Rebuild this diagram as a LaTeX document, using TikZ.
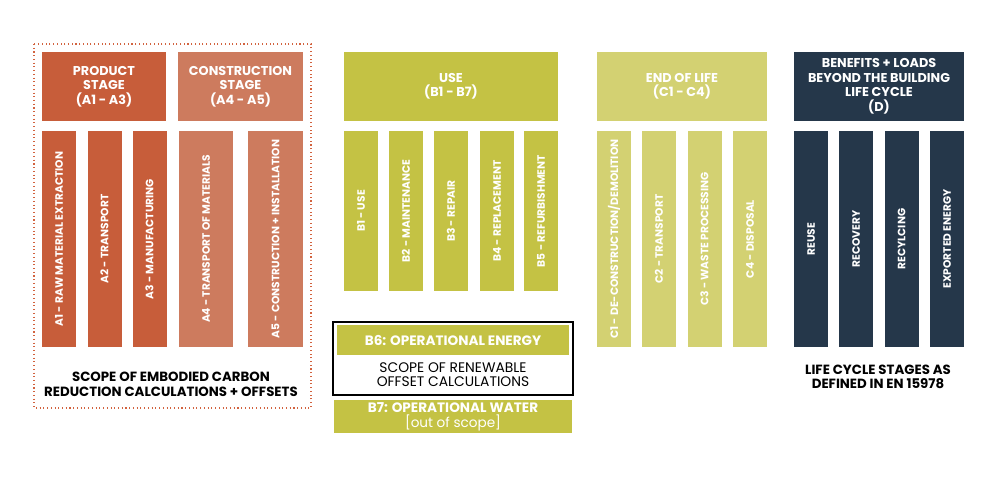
\documentclass[tikz,border=0pt]{standalone}
\usepackage{xcolor}
\usepackage{fontspec}
\setmainfont{Poppins}

\definecolor{prodred}{HTML}{C75D3A}
\definecolor{consred}{HTML}{CD7B5E}
\definecolor{usegreen}{HTML}{C4C244}
\definecolor{eolgreen}{HTML}{D3D172}
\definecolor{bennavy}{HTML}{25374A}
\definecolor{scopered}{HTML}{D2633F}

\tikzset{
  header/.style={inner sep=0pt, align=center, text=white, font=\fontsize{9.6}{10.9}\selectfont\bfseries, minimum height=51.75pt},
  stagecol/.style={inner sep=0pt, rotate=90, text=white, font=\fontsize{8}{9}\selectfont\bfseries, minimum height=25.5pt},
  caption/.style={inner sep=0pt, align=center, font=\fontsize{10}{11.25}\selectfont\bfseries}
}

\begin{document}
\begin{tikzpicture}[x=0.75pt,y=0.75pt,yscale=-1,xscale=1]
\useasboundingbox (0,0) rectangle (1000,485);

%Shape: Dotted frame
\draw [scopered, dotted, line width=0.8pt] (34,44) rectangle (311,408);

%Shape: Headers
\node [header, fill=prodred, minimum width=93pt] (prod) at (104,86.5) {PRODUCT\\STAGE\\(A1 - A3)};
\node [header, fill=consred, minimum width=93.75pt] (cons) at (240.5,86.5) {CONSTRUCTION\\STAGE\\(A4 - A5)};
\node [header, fill=usegreen, minimum width=160.5pt] (use) at (451,86.5) {USE\\(B1 - B7)};
\node [header, fill=eolgreen, minimum width=127.5pt] (eol) at (682,86.5) {END OF LIFE\\(C1 - C4)};
\node [header, fill=bennavy, minimum width=127.5pt] (ben) at (879,86.5) {BENEFITS + LOADS\\BEYOND THE BUILDING\\LIFE CYCLE\\(D)};

%Shape: Product + construction columns
\node [stagecol, fill=prodred, minimum width=162pt] (a1) at (59,239) {A1 - RAW MATERIAL EXTRACTION};
\node [stagecol, fill=prodred, minimum width=162pt] (a2) at (104.5,239) {A2 - TRANSPORT};
\node [stagecol, fill=prodred, minimum width=162pt] (a3) at (149.5,239) {A3 - MANUFACTURING};
\node [stagecol, fill=consred, minimum width=162pt, minimum height=40.5pt] (a4) at (206,239) {A4 - TRANSPORT OF MATERIALS};
\node [stagecol, fill=consred, minimum width=162pt, minimum height=41.25pt] (a5) at (275.5,239) {A5 - CONSTRUCTION + INSTALLATION};

%Shape: Use columns
\node [stagecol, fill=usegreen, minimum width=120pt] (b1) at (361,211) {B1 - USE};
\node [stagecol, fill=usegreen, minimum width=120pt] (b2) at (406,211) {B2 - MAINTENANCE};
\node [stagecol, fill=usegreen, minimum width=120pt] (b3) at (451,211) {B3 - REPAIR};
\node [stagecol, fill=usegreen, minimum width=120pt] (b4) at (497,211) {B4 - REPLACEMENT};
\node [stagecol, fill=usegreen, minimum width=120pt] (b5) at (541,211) {B5 - REFURBISHMENT};

%Shape: End of life columns
\node [stagecol, fill=eolgreen, minimum width=162pt] (c1) at (614,239) {C1 - DE-CONSTRUCTION/DEMOLITION};
\node [stagecol, fill=eolgreen, minimum width=162pt] (c2) at (659,239) {C2 - TRANSPORT};
\node [stagecol, fill=eolgreen, minimum width=162pt] (c3) at (704.5,239) {C3 - WASTE PROCESSING};
\node [stagecol, fill=eolgreen, minimum width=162pt] (c4) at (750,239) {C4 - DISPOSAL};

%Shape: Beyond life cycle columns
\node [stagecol, fill=bennavy, minimum width=162pt] (d1) at (811,239) {REUSE};
\node [stagecol, fill=bennavy, minimum width=162pt] (d2) at (856,239) {RECOVERY};
\node [stagecol, fill=bennavy, minimum width=162pt] (d3) at (901.5,239) {RECYLCING};
\node [stagecol, fill=bennavy, minimum width=162pt] (d4) at (947,239) {EXPORTED ENERGY};

%Shape: Operational energy + water
\draw [line width=1.4pt] (333,322) rectangle (573,395);
\node [header, fill=usegreen, font=\fontsize{10.2}{11}\selectfont\bfseries, minimum width=174pt, minimum height=22.5pt] (b6) at (453,340) {B6: OPERATIONAL ENERGY};
\node [caption, font=\fontsize{10.4}{10.5}\selectfont] (renew) at (453,375) {SCOPE OF RENEWABLE\\OFFSET CALCULATIONS};
\node [header, fill=usegreen, font=\fontsize{10.2}{11.25}\selectfont\bfseries, minimum width=178.5pt, minimum height=24.75pt] (b7) at (453,416.5) {B7: OPERATIONAL WATER\\{\mdseries [out of scope]}};

% Text Node
\node [caption] (scopeA) at (171,384.5) {SCOPE OF EMBODIED CARBON\\REDUCTION CALCULATIONS + OFFSETS};
% Text Node
\node [caption, font=\fontsize{10}{10.5}\selectfont\bfseries] (scopeD) at (878,377) {LIFE CYCLE STAGES AS\\DEFINED IN EN 15978};
\end{tikzpicture}
\end{document}
